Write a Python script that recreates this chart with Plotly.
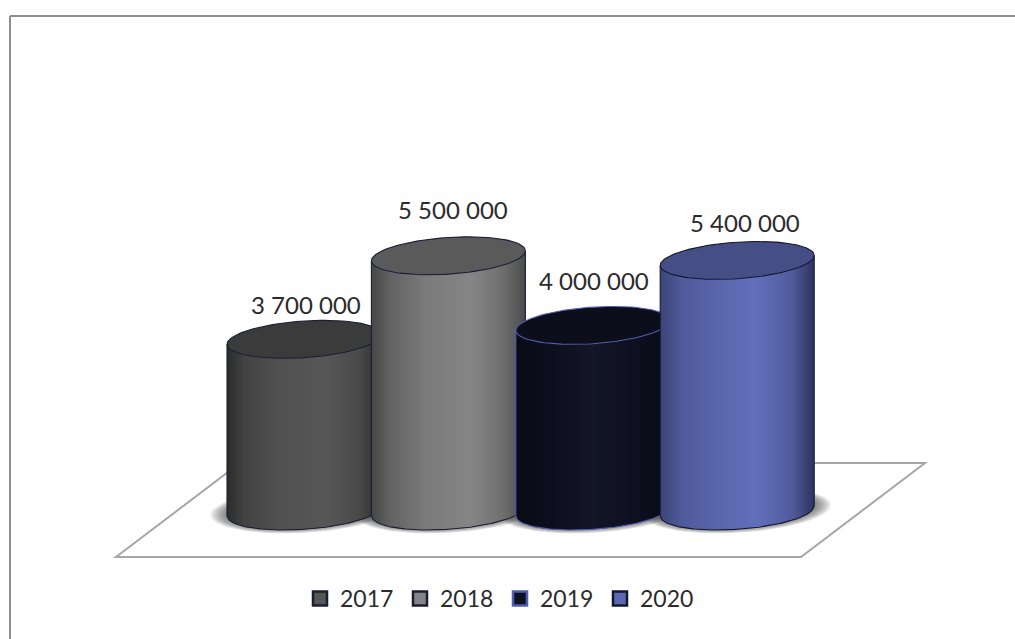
import numpy as np
import plotly.graph_objects as go

# Chart data
years = ["2017", "2018", "2019", "2020"]
amounts = [3700000, 5500000, 4000000, 5400000]
labels = ["3 700 000", "5 500 000", "4 000 000", "5 400 000"]

# Styling per series
top_fill = ["#3b3b3b", "#5a5a5a", "#0c0e1c", "#454f85"]
edge_color = ["#1b1f36", "#1b1f36", "#4f5eae", "#14182f"]
legend_fill = ["#565656", "#858585", "#0f1122", "#5c69b0"]
body_stops = [
    [(0, "#2c2c2c"), (0.12, "#444444"), (0.35, "#515151"), (0.65, "#575757"), (0.85, "#4a4a4a"), (1, "#2e2e2e")],
    [(0, "#474747"), (0.12, "#636363"), (0.35, "#7b7b7b"), (0.65, "#868686"), (0.85, "#707070"), (1, "#4c4c4c")],
    [(0, "#090b16"), (0.15, "#0c0e1c"), (0.5, "#141728"), (0.8, "#0e1020"), (1, "#090b16")],
    [(0, "#3d4679"), (0.15, "#515c9c"), (0.4, "#5b67ad"), (0.62, "#636fbb"), (0.85, "#525d9e"), (1, "#2f3560")],
]
label_shift = [(2, 35), (5, 46), (1, 45), (8, 38)]

# Pixel geometry of the oblique projection
PX_W, PX_H = 1015, 639
ORIGIN_X, ORIGIN_Y = 304, 511
UNIT_X, UNIT_Y = 144.4, 46.4e-6
RADIUS, DEPTH, TILT = 77, 18.3, 5
STRIP = 2


def data_x(i, dx):
    return i + np.asarray(dx, dtype=float) / UNIT_X


def data_y(v, dy):
    return v - np.asarray(dy, dtype=float) / UNIT_Y


def rim(u, side=1, a=RADIUS, b=DEPTH):
    """Vertical pixel offset of the tilted ellipse at normalised position u."""
    return -TILT * u + side * b * np.sqrt(np.clip(1 - u ** 2, 0, 1))


def shade(stops, f):
    pos = [s[0] for s in stops]
    rgb = np.array([[int(s[1][k:k + 2], 16) for k in (1, 3, 5)] for s in stops], dtype=float)
    return "rgb(%d,%d,%d)" % tuple(np.interp(f, pos, rgb[:, c]) for c in range(3))


fig = go.Figure()
no_hover = dict(hoverinfo="skip", showlegend=False)

# Soft contact shadows on the floor
for i in range(len(years)):
    for grow in range(17, 0, -1):
        t = np.linspace(0, 2 * np.pi, 81)
        a, b = RADIUS + grow, DEPTH + grow * 0.28
        fig.add_trace(go.Scatter(
            x=data_x(i, a * np.cos(t)), y=data_y(0, -TILT * np.cos(t) + b * np.sin(t) - 1),
            mode="lines", line=dict(width=0), fill="toself",
            fillcolor="rgba(70,70,70,0.055)", **no_hover))

# Cylinders, left to right so each one overlaps its neighbour
for i, value in enumerate(amounts):
    edges = np.arange(-RADIUS, RADIUS, STRIP)
    for left in edges:
        right = min(left + STRIP + 1, RADIUS)
        u = np.linspace(left, right, 4) / RADIUS
        px = u * RADIUS
        xs = np.concatenate([px, px[::-1]])
        top = data_y(value, -TILT * u)
        bottom = data_y(0, rim(u))
        ys = np.concatenate([top, bottom[::-1]])
        fig.add_trace(go.Scatter(
            x=data_x(i, xs), y=ys, mode="lines", line=dict(width=0), fill="toself",
            fillcolor=shade(body_stops[i], (left + STRIP / 2 + RADIUS) / (2 * RADIUS)),
            **no_hover))

    # Side and front outline
    u = np.linspace(-1, 1, 81)
    outline_x = np.concatenate([[-RADIUS], u * RADIUS, [RADIUS]])
    outline_y = np.concatenate([[data_y(value, TILT)], data_y(0, rim(u)), [data_y(value, -TILT)]])
    fig.add_trace(go.Scatter(
        x=data_x(i, outline_x), y=outline_y, mode="lines",
        line=dict(color=edge_color[i], width=1.1), **no_hover))

    # Top cap
    t = np.linspace(0, 2 * np.pi, 121)
    fig.add_trace(go.Scatter(
        x=data_x(i, RADIUS * np.cos(t)),
        y=data_y(value, -TILT * np.cos(t) + DEPTH * np.sin(t)),
        mode="lines", line=dict(color=edge_color[i], width=1.1),
        fill="toself", fillcolor=top_fill[i], **no_hover))

# Legend keys
for i, year in enumerate(years):
    fig.add_trace(go.Scatter(
        x=[None], y=[None], mode="markers", name=year, hoverinfo="skip",
        marker=dict(symbol="square", size=14, color=legend_fill[i],
                    line=dict(color=edge_color[i], width=2.5))))

# Value labels above each cylinder
annotations = [
    dict(x=i, y=v, xref="x", yref="y", text=labels[i], showarrow=False,
         xshift=label_shift[i][0], yshift=label_shift[i][1],
         font=dict(family="Lato", size=24, color="#2b2b2b"))
    for i, v in enumerate(amounts)
]


def page(px, py):
    return px / PX_W, 1 - py / PX_H


def page_path(points):
    coords = [page(*p) for p in points]
    return "M " + " L ".join(f"{x:.5f},{y:.5f}" for x, y in coords) + " Z"


shapes = [
    # Outer frame, running off the right and bottom of the page
    dict(type="line", xref="paper", yref="paper", x0=page(10, 0)[0], x1=1.01,
         y0=page(0, 16)[1], y1=page(0, 16)[1], line=dict(color="#8e8e8e", width=2)),
    dict(type="line", xref="paper", yref="paper", x0=page(10, 0)[0], x1=page(10, 0)[0],
         y0=page(0, 16)[1], y1=-0.01, line=dict(color="#8e8e8e", width=2)),
    # Floor plane
    dict(type="path", xref="paper", yref="paper", layer="below",
         path=page_path([(116, 557), (801, 557), (925, 463), (240, 463)]),
         line=dict(color="#a6a6a6", width=2), fillcolor="white"),
]

fig.update_layout(
    width=PX_W, height=PX_H, margin=dict(l=0, r=0, t=0, b=0),
    paper_bgcolor="white", plot_bgcolor="rgba(0,0,0,0)",
    xaxis=dict(visible=False, range=[-ORIGIN_X / UNIT_X, (PX_W - ORIGIN_X) / UNIT_X]),
    yaxis=dict(visible=False, range=[-(PX_H - ORIGIN_Y) / UNIT_Y, ORIGIN_Y / UNIT_Y]),
    annotations=annotations, shapes=shapes,
    legend=dict(orientation="h", x=300 / PX_W, y=1 - 577 / PX_H, xanchor="left", yanchor="top",
                entrywidth=55, entrywidthmode="pixels", bgcolor="rgba(0,0,0,0)",
                font=dict(family="Lato", size=23, color="#2b2b2b")),
)

fig.write_html("out.html", config=dict(displayModeBar=False))
